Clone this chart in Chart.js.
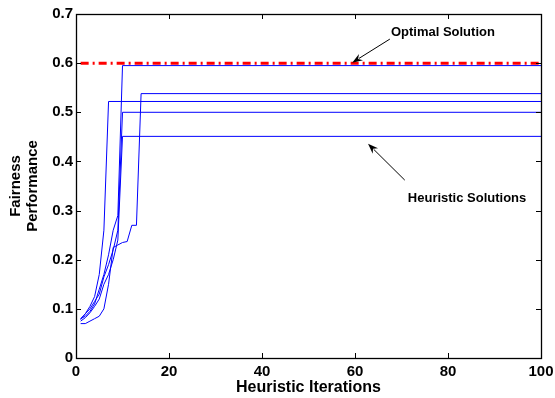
<!DOCTYPE html>
<html>
<head>
<meta charset="utf-8">
<script src="https://cdn.jsdelivr.net/npm/chart.js@4.4.1/dist/chart.umd.min.js"></script>
<style>
  html, body { margin: 0; padding: 0; background: #fff; }
  #wrap { width: 555px; height: 398px; }
</style>
</head>
<body>
<div id="wrap"><canvas id="fair"></canvas></div>
<script>
// heuristic runs: value at iterations 1..n, then flat until the last iteration
const lastIter = 100;
const runA = [0.080, 0.090, 0.105, 0.125, 0.170, 0.260, 0.522];
const runB = [0.080, 0.085, 0.095, 0.110, 0.140, 0.170, 0.210, 0.260, 0.290, 0.595];
const runC = [0.070, 0.070, 0.075, 0.080, 0.085, 0.100, 0.150, 0.225, 0.230, 0.235, 0.237, 0.270, 0.270, 0.538];
const runD = [0.078, 0.090, 0.100, 0.115, 0.130, 0.165, 0.190, 0.220, 0.260, 0.500];
const runE = [0.075, 0.082, 0.092, 0.105, 0.120, 0.150, 0.170, 0.200, 0.240, 0.451];
const optimalValue = 0.6;
const xTicks = [0, 20, 40, 60, 80, 100];
const yTicks = [0, 0.1, 0.2, 0.3, 0.4, 0.5, 0.6, 0.7];

function toPoints(vals) {
  const pts = vals.map((v, i) => ({ x: i + 1, y: v }));
  pts.push({ x: lastIter, y: vals[vals.length - 1] });
  return pts;
}

const FONT = "'Liberation Sans', Arial, Helvetica, sans-serif";

const runLine = (vals) => ({
  data: toPoints(vals),
  borderColor: '#0000ff',
  borderWidth: 1,
  pointRadius: 0,
  tension: 0,
  fill: false
});

// box + inward ticks like the original figure
const framePlugin = {
  id: 'frame',
  afterDraw(chart) {
    const { ctx, chartArea: a, scales } = chart;
    ctx.save();
    ctx.strokeStyle = '#000';
    ctx.lineWidth = 1;
    ctx.beginPath();
    xTicks.forEach(t => {
      const px = Math.round(scales.x.getPixelForValue(t)) + 0.5;
      ctx.moveTo(px, a.bottom); ctx.lineTo(px, a.bottom - 5);
      ctx.moveTo(px, a.top); ctx.lineTo(px, a.top + 5);
    });
    yTicks.forEach(t => {
      const py = Math.round(scales.y.getPixelForValue(t)) + 0.5;
      ctx.moveTo(a.left, py); ctx.lineTo(a.left + 5, py);
      ctx.moveTo(a.right, py); ctx.lineTo(a.right - 5, py);
    });
    ctx.stroke();
    ctx.lineWidth = 1.3;
    ctx.strokeRect(Math.round(a.left) + 0.5, Math.round(a.top) + 0.5,
      Math.round(a.right - a.left), Math.round(a.bottom - a.top));
    ctx.restore();
  }
};

// text labels with arrows, positioned in data units
const notes = [
  { text: 'Optimal Solution', at: [78.9, 0.662], from: [67.5, 0.649], to: [59.4, 0.601] },
  { text: 'Heuristic Solutions', at: [84.1, 0.324], from: [70.7, 0.362], to: [62.8, 0.436] }
];

const notePlugin = {
  id: 'notes',
  afterDraw(chart) {
    const { ctx, scales } = chart;
    ctx.save();
    ctx.fillStyle = '#000';
    ctx.strokeStyle = '#000';
    ctx.font = 'bold 13px ' + FONT;
    ctx.textAlign = 'center';
    ctx.textBaseline = 'middle';
    notes.forEach(n => {
      ctx.fillText(n.text, scales.x.getPixelForValue(n.at[0]), scales.y.getPixelForValue(n.at[1]));
      const x1 = scales.x.getPixelForValue(n.from[0]), y1 = scales.y.getPixelForValue(n.from[1]);
      const x2 = scales.x.getPixelForValue(n.to[0]), y2 = scales.y.getPixelForValue(n.to[1]);
      const ang = Math.atan2(y2 - y1, x2 - x1);
      ctx.lineWidth = 1;
      ctx.beginPath();
      ctx.moveTo(x1, y1);
      ctx.lineTo(x2 - 8 * Math.cos(ang), y2 - 8 * Math.sin(ang));
      ctx.stroke();
      ctx.beginPath();
      ctx.moveTo(x2, y2);
      ctx.lineTo(x2 - 11 * Math.cos(ang - 0.35), y2 - 11 * Math.sin(ang - 0.35));
      ctx.lineTo(x2 - 7 * Math.cos(ang), y2 - 7 * Math.sin(ang));
      ctx.lineTo(x2 - 11 * Math.cos(ang + 0.35), y2 - 11 * Math.sin(ang + 0.35));
      ctx.closePath();
      ctx.fill();
    });
    ctx.restore();
  }
};

new Chart(document.getElementById('fair'), {
  type: 'line',
  data: {
    datasets: [
      runLine(runC),
      runLine(runA),
      runLine(runD),
      runLine(runE),
      runLine(runB),
      {
        data: [{ x: 1, y: optimalValue }, { x: lastIter, y: optimalValue }],
        borderColor: '#ff0000',
        borderWidth: 3,
        borderDash: [8, 4, 2, 4],
        pointRadius: 0,
        fill: false
      }
    ]
  },
  options: {
    responsive: true,
    maintainAspectRatio: false,
    animation: false,
    layout: { padding: { left: 0, top: 14, right: 14, bottom: 0 } },
    plugins: {
      legend: { display: false },
      tooltip: { enabled: false }
    },
    scales: {
      x: {
        type: 'linear',
        min: 0,
        max: 100,
        afterFit: (s) => { s.height = 40; s.paddingLeft = 0; s.paddingRight = 0; },
        afterBuildTicks: (s) => { s.ticks = xTicks.map(v => ({ value: v })); },
        grid: { display: false, drawTicks: false },
        border: { display: false },
        ticks: {
          color: '#000',
          padding: 5,
          maxRotation: 0,
          font: { family: FONT, size: 15, weight: 'bold' }
        },
        title: {
          display: true,
          text: 'Heuristic Iterations',
          color: '#000',
          padding: { top: 0, bottom: 1 },
          font: { family: FONT, size: 16, weight: 'bold' }
        }
      },
      y: {
        min: 0,
        max: 0.7,
        afterFit: (s) => { s.width = 76; s.paddingTop = 0; s.paddingBottom = 0; },
        afterBuildTicks: (s) => { s.ticks = yTicks.map(v => ({ value: v })); },
        grid: { display: false, drawTicks: false },
        border: { display: false },
        ticks: {
          color: '#000',
          padding: 3,
          font: { family: FONT, size: 15, weight: 'bold' },
          callback: (v) => (v === 0 ? '0' : v.toFixed(1))
        },
        title: {
          display: true,
          text: ['Fairness', 'Performance'],
          color: '#000',
          padding: { top: 7, bottom: 0 },
          font: { family: FONT, size: 15, weight: 'bold', lineHeight: 1.15 }
        }
      }
    }
  },
  plugins: [framePlugin, notePlugin]
});
</script>
</body>
</html>
